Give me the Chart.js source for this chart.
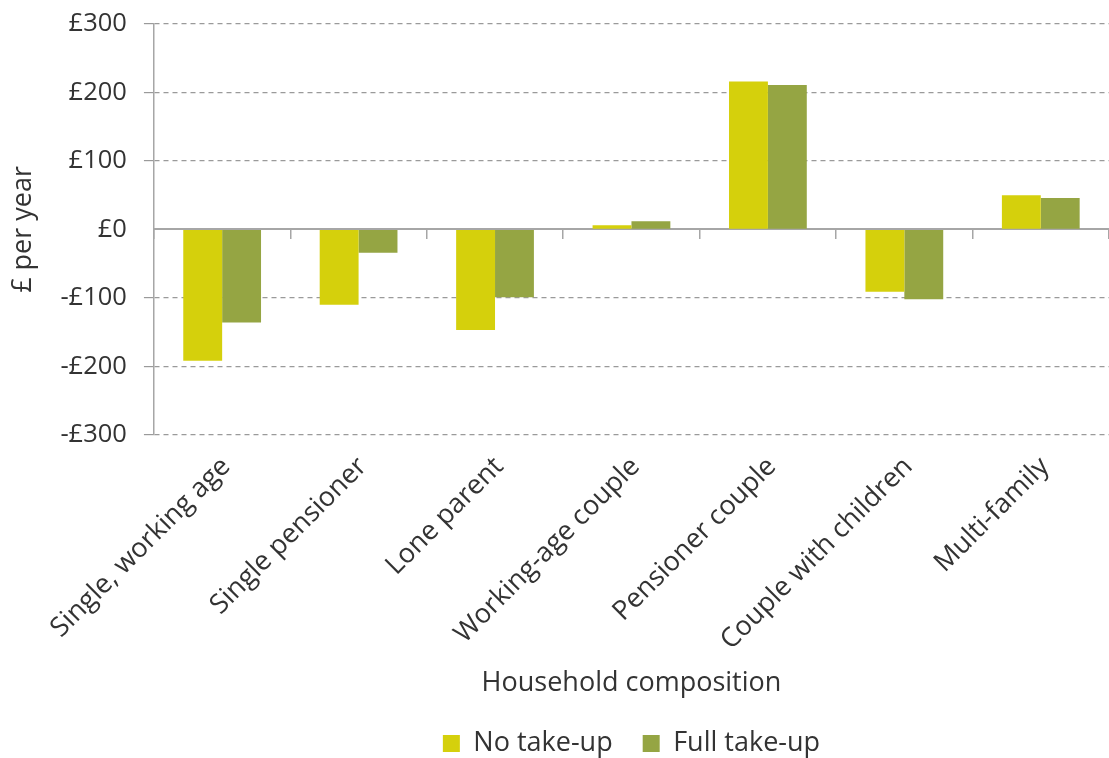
<!DOCTYPE html>
<html><head><meta charset="utf-8">
<script src="https://cdn.jsdelivr.net/npm/chart.js@4/dist/chart.umd.min.js"></script>
<style>html,body{margin:0;padding:0;background:#fff}#wrap{width:1109px;height:758px}</style>
</head><body><div id="wrap"><canvas id="c" width="1109" height="758"></canvas></div>
<script>
const categories = ["Single, working age","Single pensioner","Lone parent","Working-age couple","Pensioner couple","Couple with children","Multi-family"];
const noTakeUp = [-192, -110, -147, 6, 216, -91, 50];
const fullTakeUp = [-136, -34, -99, 12, 211, -102, 46];
const yTicks = [-300,-200,-100,0,100,200,300];
const seriesNames = ["No take-up","Full take-up"];

const FONT = "'Open Sans', 'Noto Sans', sans-serif";
const TXT = '#333333';
Chart.defaults.font.family = FONT;
Chart.defaults.color = TXT;

new Chart(document.getElementById('c'), {
  type: 'bar',
  data: {
    labels: categories,
    datasets: [
      {label: seriesNames[0], data: noTakeUp, backgroundColor: '#d5d00c', categoryPercentage: 0.57, barPercentage: 1.0},
      {label: seriesNames[1], data: fullTakeUp, backgroundColor: '#95a543', categoryPercentage: 0.57, barPercentage: 1.0}
    ]
  },
  options: {
    responsive: false,
    animation: false,
    layout: {padding: {left: 3, right: 0, top: 0, bottom: -9}},
    plugins: {
      legend: {
        position: 'bottom',
        fullSize: false,
        labels: {boxWidth: 17, boxHeight: 17, padding: 30, font: {size: 27}, color: TXT}
      },
      tooltip: {enabled: false}
    },
    scales: {
      x: {
        offset: true,
        grid: {display: false},
        border: {display: false},
        ticks: {minRotation: 45, maxRotation: 45, font: {size: 27}, color: TXT, padding: 8, labelOffset: 4},
        title: {display: true, text: 'Household composition', font: {size: 27}, color: TXT, padding: {top: 3, bottom: 0}}
      },
      x2: {
        type: 'category',
        position: {y: 0},
        offset: true,
        grid: {offset: true, drawOnChartArea: false, drawTicks: true, tickLength: 9, color: '#a6a6a6', lineWidth: 1.5},
        border: {display: true, color: '#a6a6a6', width: 2},
        ticks: {display: false}
      },
      y: {
        min: -300, max: 300,
        afterBuildTicks: (s) => { s.ticks = yTicks.map(v => ({value: v})); },
        afterFit: (s) => { s.paddingTop = 24; },
        ticks: {font: {size: 25.5}, color: TXT, padding: 17,
          callback: (v) => (v < 0 ? '-£' : '£') + Math.abs(v)},
        grid: {
          color: (ctx) => ctx.tick && ctx.tick.value === 0 ? 'rgba(0,0,0,0)' : '#9a9a9a',
          lineWidth: 1.2,
          tickLength: 10
        },
        border: {display: true, color: '#a6a6a6', width: 1.5, dash: [5,4]},
        title: {display: true, text: '£ per year', font: {size: 27}, color: TXT, padding: {bottom: 4}}
      }
    }
  }
});
</script></body></html>
